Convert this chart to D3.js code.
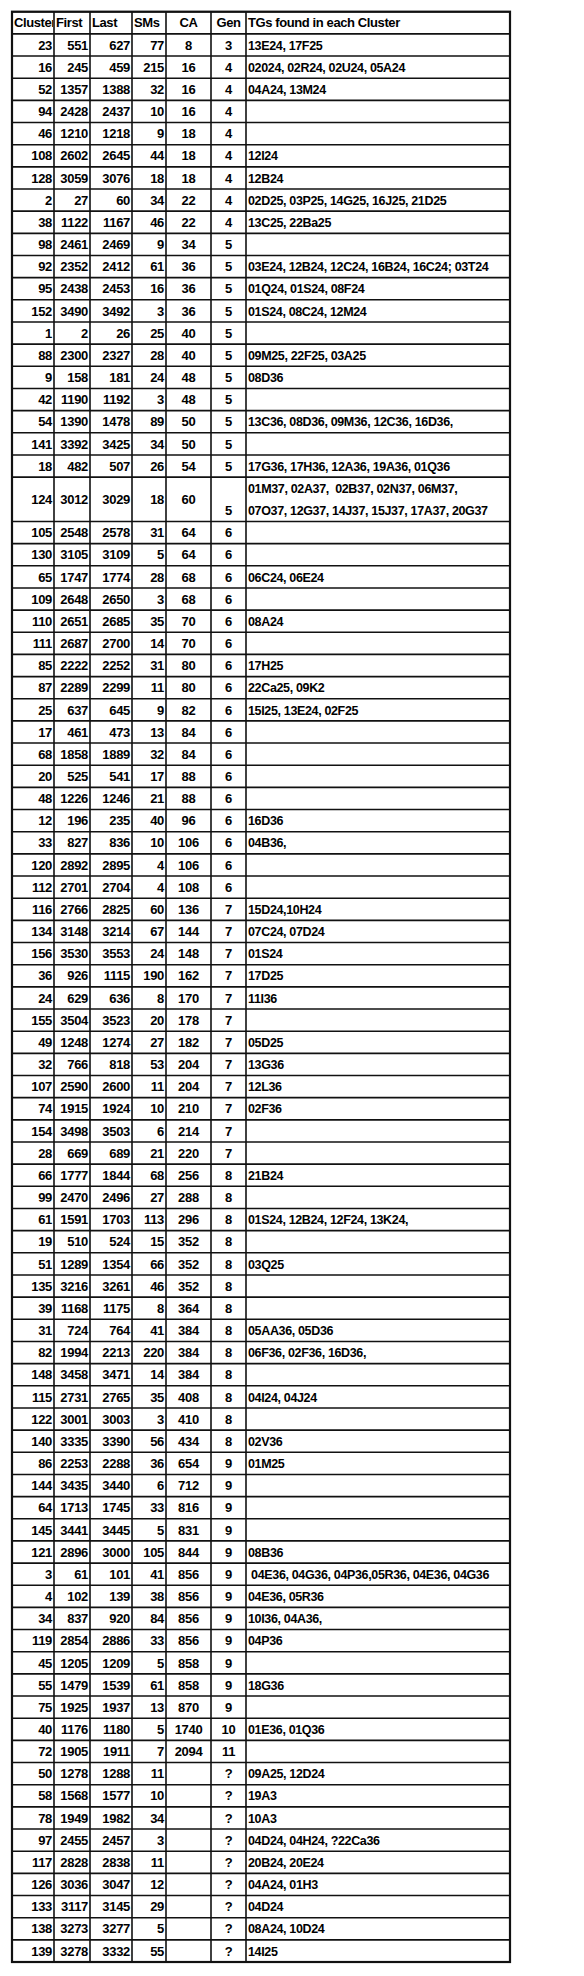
<!DOCTYPE html>
<html><head><meta charset="utf-8">
<script src="https://cdn.jsdelivr.net/npm/d3@7"></script>
<style>body{margin:0;background:#fff}</style></head>
<body><div id="c"></div>
<script>
const headers = ["Cluster","First","Last","SMs","CA","Gen","TGs found in each Cluster"];
const clusters = [23,16,52,94,46,108,128,2,38,98,92,95,152,1,88,9,42,54,141,18,124,105,130,65,109,110,111,85,87,25,17,68,20,48,12,33,120,112,116,134,156,36,24,155,49,32,107,74,154,28,66,99,61,19,51,135,39,31,82,148,115,122,140,86,144,64,145,121,3,4,34,119,45,55,75,40,72,50,58,78,97,117,126,133,138,139];
const firsts = [551,245,1357,2428,1210,2602,3059,27,1122,2461,2352,2438,3490,2,2300,158,1190,1390,3392,482,3012,2548,3105,1747,2648,2651,2687,2222,2289,637,461,1858,525,1226,196,827,2892,2701,2766,3148,3530,926,629,3504,1248,766,2590,1915,3498,669,1777,2470,1591,510,1289,3216,1168,724,1994,3458,2731,3001,3335,2253,3435,1713,3441,2896,61,102,837,2854,1205,1479,1925,1176,1905,1278,1568,1949,2455,2828,3036,3117,3273,3278];
const lasts = [627,459,1388,2437,1218,2645,3076,60,1167,2469,2412,2453,3492,26,2327,181,1192,1478,3425,507,3029,2578,3109,1774,2650,2685,2700,2252,2299,645,473,1889,541,1246,235,836,2895,2704,2825,3214,3553,1115,636,3523,1274,818,2600,1924,3503,689,1844,2496,1703,524,1354,3261,1175,764,2213,3471,2765,3003,3390,2288,3440,1745,3445,3000,101,139,920,2886,1209,1539,1937,1180,1911,1288,1577,1982,2457,2838,3047,3145,3277,3332];
const sms = [77,215,32,10,9,44,18,34,46,9,61,16,3,25,28,24,3,89,34,26,18,31,5,28,3,35,14,31,11,9,13,32,17,21,40,10,4,4,60,67,24,190,8,20,27,53,11,10,6,21,68,27,113,15,66,46,8,41,220,14,35,3,56,36,6,33,5,105,41,38,84,33,5,61,13,5,7,11,10,34,3,11,12,29,5,55];
const cas = [8,16,16,16,18,18,18,22,22,34,36,36,36,40,40,48,48,50,50,54,60,64,64,68,68,70,70,80,80,82,84,84,88,88,96,106,106,108,136,144,148,162,170,178,182,204,204,210,214,220,256,288,296,352,352,352,364,384,384,384,408,410,434,654,712,816,831,844,856,856,856,856,858,858,870,1740,2094,"","","","","","","","",""];
const gens = [3,4,4,4,4,4,4,4,4,5,5,5,5,5,5,5,5,5,5,5,5,6,6,6,6,6,6,6,6,6,6,6,6,6,6,6,6,6,7,7,7,7,7,7,7,7,7,7,7,7,8,8,8,8,8,8,8,8,8,8,8,8,8,9,9,9,9,9,9,9,9,9,9,9,9,10,11,"?","?","?","?","?","?","?","?","?"];
const tgs = ["13E24, 17F25","02024, 02R24, 02U24, 05A24","04A24, 13M24","","","12I24","12B24","02D25, 03P25, 14G25, 16J25, 21D25","13C25, 22Ba25","","03E24, 12B24, 12C24, 16B24, 16C24; 03T24","01Q24, 01S24, 08F24","01S24, 08C24, 12M24","","09M25, 22F25, 03A25","08D36","","13C36, 08D36, 09M36, 12C36, 16D36,","","17G36, 17H36, 12A36, 19A36, 01Q36","01M37, 02A37,  02B37, 02N37, 06M37,|07O37, 12G37, 14J37, 15J37, 17A37, 20G37","","","06C24, 06E24","","08A24","","17H25","22Ca25, 09K2","15I25, 13E24, 02F25","","","","","16D36","04B36,","","","15D24,10H24","07C24, 07D24","01S24","17D25","11I36","","05D25","13G36","12L36","02F36","","","21B24","","01S24, 12B24, 12F24, 13K24,","","03Q25","","","05AA36, 05D36","06F36, 02F36, 16D36,","","04I24, 04J24","","02V36","01M25","","","","08B36"," 04E36, 04G36, 04P36,05R36, 04E36, 04G36","04E36, 05R36","10I36, 04A36,","04P36","","18G36","","01E36, 01Q36","","09A25, 12D24","19A3","10A3","04D24, 04H24, ?22Ca36","20B24, 20E24","04A24, 01H3","04D24","08A24, 10D24","14I25"];

const W=584,H=1976;
const colEdges=[12,54,90,132,166,211,246,510];
const rows = clusters.map((c,i)=>({vals:[c,firsts[i],lasts[i],sms[i],cas[i],gens[i],tgs[i]], span: tgs[i].includes("|")?2:1}));
let acc=1; rows.forEach(r=>{r.start=acc; acc+=r.span;});
const total=acc;
const y=d3.scaleLinear().domain([0,total]).range([11.7,1962]);
const svg=d3.select("#c").append("svg").attr("width",W).attr("height",H).style("font-family","'Liberation Sans',Arial,sans-serif").style("font-weight","bold").style("font-size","13px");
svg.append("defs").append("clipPath").attr("id","cl0").append("rect").attr("x",colEdges[0]).attr("y",0).attr("width",colEdges[1]-colEdges[0]-1).attr("height",H);
const align=["end","end","end","end","middle","middle","start"];
function tx(j){ if(align[j]==="end") return colEdges[j+1]-2; if(align[j]==="middle") return (colEdges[j]+colEdges[j+1])/2; return colEdges[j]+2; }
const hg=svg.append("g");
headers.forEach((h,j)=>{
  const a = j<4?"start":(j<6?"middle":"start");
  const x = a==="middle"?(colEdges[j]+colEdges[j+1])/2:colEdges[j]+2;
  hg.append("text").attr("x",x).attr("y",y(0.5)+4.7).attr("text-anchor",a).attr("letter-spacing","-0.4").attr("clip-path",j===0?"url(#cl0)":null).text(h);
});
const rg=svg.append("g");
rows.forEach(r=>{
  const yc=y(r.start+r.span/2)+4.7;
  r.vals.forEach((v,j)=>{
    if(v===""||v===undefined) return;
    if(j===6){
      const lines=String(v).split("|");
      lines.forEach((ln,k)=>{
        const yy = lines.length>1? y(r.start+k+0.5)+4.7 : yc;
        rg.append("text").attr("x",tx(j)).attr("y",yy).attr("text-anchor","start").style("font-size","12.5px").attr("letter-spacing","-0.35").style("white-space","pre").text(ln);
      });
    } else {
      const yy = (j===5 && r.span>1)? y(r.start+1.5)+4.7 : yc;
      rg.append("text").attr("x",tx(j)).attr("y",yy).attr("text-anchor",align[j]).attr("letter-spacing","-0.3").text(v);
    }
  });
});
const lg=svg.append("g").attr("stroke","#111").attr("stroke-width",1.6);
const hl=[0].concat(rows.map(r=>r.start)).concat([total]);
hl.forEach(u=>lg.append("line").attr("x1",colEdges[0]).attr("x2",colEdges[7]).attr("y1",y(u)).attr("y2",y(u)));
colEdges.forEach(x=>lg.append("line").attr("x1",x).attr("x2",x).attr("y1",y(0)).attr("y2",y(total)));
lg.append("rect").attr("x",colEdges[0]).attr("y",y(0)).attr("width",colEdges[7]-colEdges[0]).attr("height",y(total)-y(0)).attr("fill","none").attr("stroke-width",2.2);
</script></body></html>
